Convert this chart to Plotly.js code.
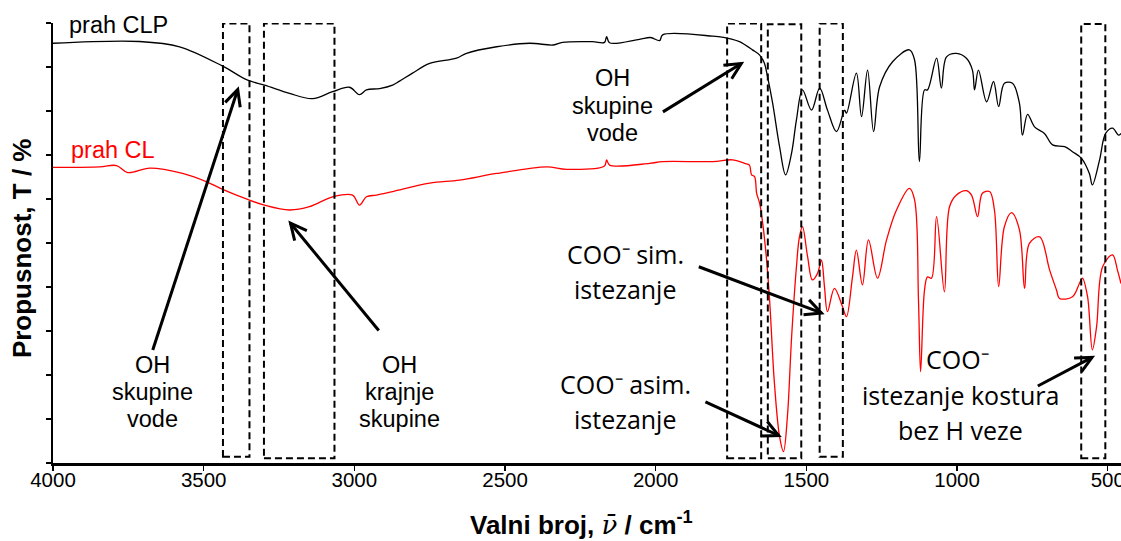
<!DOCTYPE html>
<html>
<head>
<meta charset="utf-8">
<script src="https://cdn.plot.ly/plotly-3.0.1.min.js"></script>
<style>
  html, body { margin: 0; padding: 0; background: #fff; }
  #chart { width: 1121px; height: 541px; }
</style>
</head>
<body>
<div id="chart"></div>
<script>
// ---------- data (wavenumber / cm-1, transmittance in arbitrary % units) ----------
const wnCLP = [4000,3713,3580,3437,3354,3298,3215,3139,3072,3016,2983,2960,2916,2873,2850,2807,2750,2661,2628,2528,2419,2340,2309,2210,2170,2163,2153,2054,2017,1987,1977,1811,1745,1722,1679,1655,1639,1629,1612,1589,1569,1549,1533,1513,1483,1456,1430,1400,1373,1367,1334,1317,1297,1277,1257,1214,1158,1141,1125,1108,1098,1068,1052,1035,1002,969,949,942,929,902,879,862,843,816,793,783,766,743,710,683,643,617,587,561,551,527,507,484,464,456];
const tCLP  = [95.4,95.8,94.6,90.2,87.0,85.9,84.0,82.8,84.4,85.4,83.7,84.8,85.1,85.9,86.8,88.6,90.8,92.0,93.1,94.6,95.4,95.0,95.6,95.75,95.6,96.9,95.5,96.3,96.7,96.0,97.3,97.0,96.3,95.75,93.9,92.7,90.8,87.8,81.8,71.9,65.5,70.5,78.0,84.8,80.2,85.2,80.2,75.3,80.2,79.5,88.6,78.7,89.3,75.3,85.5,91.2,93.9,91.6,68.5,84.8,84.8,92.0,85.2,92.3,93.1,92.0,89.3,84.8,89.3,82.1,86.7,81.0,86.3,86.3,81.75,74.5,79.25,76.4,74.9,72.3,71.9,70.75,69.25,65.8,63.2,68.9,74.9,76.1,74.5,74.9];

const wnCL = [4000,3845,3789,3752,3679,3570,3490,3437,3354,3298,3215,3149,3072,3006,2983,2960,2926,2873,2750,2651,2528,2362,2296,2170,2163,2153,2020,1977,1811,1745,1705,1689,1682,1672,1665,1655,1645,1632,1622,1606,1589,1576,1563,1549,1533,1523,1513,1496,1480,1463,1450,1440,1430,1407,1380,1367,1347,1334,1314,1294,1264,1234,1201,1158,1141,1128,1121,1108,1098,1085,1068,1042,1025,1002,969,952,932,916,892,876,862,843,819,793,776,760,726,693,670,660,617,594,584,567,551,537,517,484,468,456];
const tCL  = [67.2,67.3,67.6,66.0,67.0,65.8,63.9,62.2,59.9,58.6,57.5,58.25,60.5,60.9,58.6,60.5,60.9,61.7,63.6,64.3,65.8,67.3,66.75,67.5,68.9,67.7,68.1,68.5,68.5,68.9,68.1,67.7,65.5,65.1,61.3,59.0,54.5,46.1,37.0,18.1,6.0,2.6,10.5,28.7,44.6,51.4,53.7,46.9,41.6,43.1,46.1,40.1,34.4,39.7,35.5,33.25,42.3,48.4,40.5,50.7,42.0,50.7,57.5,62.4,59.8,37.0,20.75,39.3,42.3,42.0,56.0,38.9,58.25,60.9,61.9,60.9,56.0,61.3,61.7,57.5,40.1,53.7,56.9,53.0,39.7,49.9,51.4,43.9,39.3,37.4,37.8,40.8,42.0,37.8,25.7,31.0,44.6,47.3,43.9,40.8];

const seriesNames = ['prah CLP', 'prah CL'];
const xTickVals = [4000,3500,3000,2500,2000,1500,1000,500];
const xTickText = ['4000','3500','3000','2500','2000','1500','1000','500'];

// highlighted bands (wavenumber bounds)
const bandHi = [3436,3300,1763,1628,1456,588];
const bandLo = [3348,3066,1650,1517,1379,508];
const bandTop = [99.9,99.9,99.9,99.7,99.9,99.8];
const bandBottom = [1.4,1.1,1.1,1.1,1.4,1.1];

// arrows: tail -> head  [wavenumber, value]
const arrowTail = [[3669,25.7],[2919,30.1],[1976,79.8],[1857,44.6],[1835,13.9],[732,17.5]];
const arrowHead = [[3387,84.9],[3212,54.5],[1716,90.8],[1450,34.1],[1592,6.25],[552,24.0]];

// labels
const arialLabels = [
  ['OH',3669,22.25],['skupine',3669,16.2],['vode',3669,9.9],
  ['OH',2850,22.25],['krajnje',2850,16.2],['skupine',2850,9.9],
  ['OH',2142,87.4],['skupine',2142,81.2],['vode',2142,74.9]
];
const calibriLabels = [
  ['COO\u207B sim.',2100,47.6],['istezanje',2103,39.6],
  ['COO\u207B asim.',2100,18.05],['istezanje',2103,10.1],
  ['COO\u207B',998,23.7],['istezanje kostura',990,15.4],['bez H veze',988,7.4]
];

// ---------- geometry ----------
const ML = 53, MT = 23, PW = 1068, PH = 440;
const XR = [4000, 456], YR = [0, 100];
function toPx(wn, v) { return [ML + (XR[0]-wn)/(XR[0]-XR[1])*PW, MT + (YR[1]-v)/(YR[1]-YR[0])*PH]; }
function toData(px, py) { return [XR[0] - (px-ML)/PW*(XR[0]-XR[1]), YR[1] - (py-MT)/PH*(YR[1]-YR[0])]; }

const ARIAL = 'Liberation Sans, Arial, sans-serif';
const CAL = 'Open Sans, sans-serif';

const traces = [
  { x: wnCLP, y: tCLP, type: 'scatter', mode: 'lines', name: seriesNames[0],
    line: { color: '#000000', width: 1.3, shape: 'spline', smoothing: 1 } },
  { x: wnCL, y: tCL, type: 'scatter', mode: 'lines', name: seriesNames[1],
    line: { color: '#ff0000', width: 1.3, shape: 'spline', smoothing: 1 } }
];

const shapes = [];
for (let i = 0; i < bandHi.length; i++) {
  shapes.push({ type: 'rect', xref: 'x', yref: 'y', x0: bandHi[i], x1: bandLo[i], y0: bandBottom[i], y1: bandTop[i],
    line: { color: '#000', width: 2, dash: '7px,4px' }, fillcolor: 'rgba(0,0,0,0)' });
}
for (let i = 0; i < arrowTail.length; i++) {
  const [tx, ty] = toPx(arrowTail[i][0], arrowTail[i][1]);
  const [hx, hy] = toPx(arrowHead[i][0], arrowHead[i][1]);
  const d = Math.hypot(tx-hx, ty-hy), ux = (tx-hx)/d, uy = (ty-hy)/d;
  const a = 26*Math.PI/180, len = 18;
  const w = [1,-1].map(s => toData(hx + len*(ux*Math.cos(a) - s*uy*Math.sin(a)), hy + len*(s*ux*Math.sin(a) + uy*Math.cos(a))));
  shapes.push({ type: 'line', xref: 'x', yref: 'y', x0: arrowTail[i][0], y0: arrowTail[i][1], x1: arrowHead[i][0], y1: arrowHead[i][1],
    line: { color: '#000', width: 3 } });
  shapes.push({ type: 'path', xref: 'x', yref: 'y',
    path: `M${w[0][0]},${w[0][1]} L${arrowHead[i][0]},${arrowHead[i][1]} L${w[1][0]},${w[1][1]}`,
    line: { color: '#000', width: 3 } });
}

const annotations = [];
annotations.push({ text: seriesNames[0], x: 3955, y: 99.5, xref: 'x', yref: 'y', xanchor: 'left', yanchor: 'middle', showarrow: false,
  font: { family: ARIAL, size: 23.5, color: '#000' } });
annotations.push({ text: seriesNames[1], x: 3948, y: 71.1, xref: 'x', yref: 'y', xanchor: 'left', yanchor: 'middle', showarrow: false,
  font: { family: ARIAL, size: 23.5, color: '#ff0000' } });
arialLabels.forEach(l => annotations.push({ text: l[0], x: l[1], y: l[2], xref: 'x', yref: 'y', xanchor: 'center', yanchor: 'middle',
  showarrow: false, font: { family: ARIAL, size: 23.5, color: '#000' } }));
calibriLabels.forEach(l => annotations.push({ text: l[0], x: l[1], y: l[2], xref: 'x', yref: 'y', xanchor: 'center', yanchor: 'middle',
  showarrow: false, font: { family: CAL, size: 25, color: '#000' } }));
// axis titles
annotations.push({ text: 'Valni broj, <span style="font-family:DejaVu Serif;font-style:italic;font-weight:normal">\u03BD\u0304</span> / cm<sup>-1</sup>',
  x: (581-ML)/PW, y: (MT+PH-523.5)/PH, xref: 'paper', yref: 'paper', xanchor: 'center', yanchor: 'middle', showarrow: false,
  font: { family: ARIAL, size: 26, color: '#000', weight: 'bold' } });
annotations.push({ text: 'Propusnost, T / %', textangle: -90,
  x: (22.6-ML)/PW, y: (MT+PH-248.5)/PH, xref: 'paper', yref: 'paper', xanchor: 'center', yanchor: 'middle', showarrow: false,
  font: { family: ARIAL, size: 26, color: '#000', weight: 'bold' } });

const layout = {
  width: 1121, height: 541,
  margin: { l: ML, r: 1121-ML-PW, t: MT, b: 541-MT-PH, pad: 0 },
  paper_bgcolor: '#fff', plot_bgcolor: '#fff',
  showlegend: false,
  xaxis: { range: XR, tickvals: xTickVals, ticktext: xTickText, ticks: 'outside', ticklen: 5, tickwidth: 1.5, tickcolor: '#000',
    ticklabeloverflow: 'allow', ticklabelstandoff: -8,
    showline: true, linecolor: '#000', linewidth: 2.5, showgrid: false, zeroline: false,
    tickfont: { family: ARIAL, size: 20.5, color: '#000' } },
  yaxis: { range: YR, dtick: 10, tick0: 0, ticks: 'outside', ticklen: 5, tickwidth: 1.5, tickcolor: '#000', showticklabels: false,
    showline: true, linecolor: '#000', linewidth: 2.5, showgrid: false, zeroline: false },
  shapes: shapes,
  annotations: annotations
};

Plotly.newPlot('chart', traces, layout, { staticPlot: true, displayModeBar: false });
</script>
</body>
</html>
